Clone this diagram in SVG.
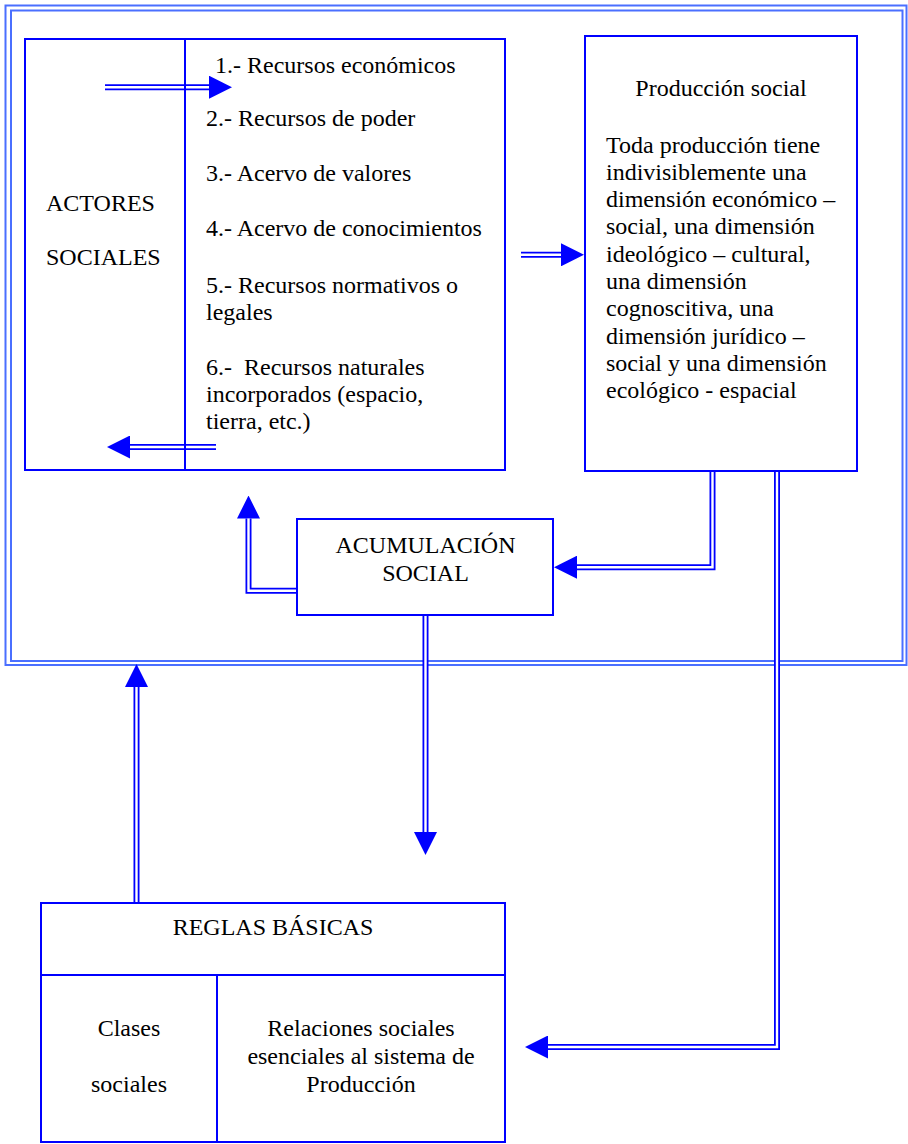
<svg xmlns="http://www.w3.org/2000/svg" width="908" height="1144" viewBox="0 0 908 1144">
<style>
  .frame { fill: none; stroke: #4a6fff; stroke-width: 2; }
  .box { fill: none; stroke: #0000ff; stroke-width: 2; }
  .dl-o { fill: none; stroke: #0000ff; stroke-width: 6; stroke-linejoin: miter; }
  .dl-i { fill: none; stroke: #ffffff; stroke-width: 2.4; stroke-linejoin: miter; }
  text { font-family: "Liberation Serif", "Times New Roman", serif; font-size: 24px; fill: #000000; }
  .c { text-anchor: middle; }
</style>
<defs>
  <marker id="ah" markerUnits="userSpaceOnUse" markerWidth="23" markerHeight="23" viewBox="0 0 23 23" refX="0" refY="11.5" orient="auto">
    <path d="M0,0 L23,11.5 L0,23 z" fill="#0000ff"/>
  </marker>
</defs>
<rect width="908" height="1144" fill="#ffffff"/>

<g id="frame">
  <rect class="frame" x="5.5" y="5.5" width="901" height="659.5"/>
  <rect class="frame" x="11" y="10.5" width="891.5" height="650.5"/>
</g>

<g id="connectors">
  <g id="c-in">
    <path class="dl-o" d="M105,87.2 H209" marker-end="url(#ah)"/>
    <path class="dl-i" d="M105,87.2 H209"/>
  </g>
  <g id="c-to-prod">
    <path class="dl-o" d="M521,254.8 H561" marker-end="url(#ah)"/>
    <path class="dl-i" d="M521,254.8 H561"/>
  </g>
  <g id="c-out">
    <path class="dl-o" d="M216,447 H130" marker-end="url(#ah)"/>
    <path class="dl-i" d="M216,447 H130"/>
  </g>
  <g id="c-acum-up">
    <path class="dl-o" d="M297,590.8 H248.5 V518.5" marker-end="url(#ah)"/>
    <path class="dl-i" d="M297,590.8 H248.5 V518.5"/>
  </g>
  <g id="c-prod-acum">
    <path class="dl-o" d="M712.5,471 V567.2 H577" marker-end="url(#ah)"/>
    <path class="dl-i" d="M712.5,471 V567.2 H577"/>
  </g>
  <g id="c-acum-down">
    <path class="dl-o" d="M425.5,615 V832" marker-end="url(#ah)"/>
    <path class="dl-i" d="M425.5,615 V832"/>
  </g>
  <g id="c-prod-reglas">
    <path class="dl-o" d="M777,471 V1047 H548" marker-end="url(#ah)"/>
    <path class="dl-i" d="M777,471 V1047 H548"/>
  </g>
  <g id="c-reglas-up">
    <path class="dl-o" d="M136.5,903 V687" marker-end="url(#ah)"/>
    <path class="dl-i" d="M136.5,903 V687"/>
  </g>
</g>

<g id="actores">
  <rect class="box" x="25" y="39" width="480" height="431"/>
  <line class="box" x1="185" y1="39" x2="185" y2="470"/>
  <text x="46" y="211">ACTORES</text>
  <text x="46" y="265">SOCIALES</text>
  <text x="215" y="73">1.- Recursos económicos</text>
  <text x="206" y="126">2.- Recursos de poder</text>
  <text x="206" y="181">3.- Acervo de valores</text>
  <text x="206" y="236">4.- Acervo de conocimientos</text>
  <text x="206" y="293">5.- Recursos normativos o</text>
  <text x="206" y="320">legales</text>
  <text x="206" y="375">6.-&#160; Recursos naturales</text>
  <text x="206" y="402">incorporados (espacio,</text>
  <text x="206" y="429">tierra, etc.)</text>
</g>

<g id="produccion">
  <rect class="box" x="585" y="36" width="272" height="435"/>
  <text class="c" x="721" y="96">Producción social</text>
  <text x="606" y="152.5">Toda producción tiene</text>
  <text x="606" y="179.8">indivisiblemente una</text>
  <text x="606" y="207.1">dimensión económico –</text>
  <text x="606" y="234.4">social, una dimensión</text>
  <text x="606" y="261.7">ideológico – cultural,</text>
  <text x="606" y="289">una dimensión</text>
  <text x="606" y="316.3">cognoscitiva, una</text>
  <text x="606" y="343.6">dimensión jurídico –</text>
  <text x="606" y="370.9">social y una dimensión</text>
  <text x="606" y="398.2">ecológico - espacial</text>
</g>

<g id="acumulacion">
  <rect class="box" x="297" y="519" width="256" height="96"/>
  <text class="c" x="425.5" y="553">ACUMULACIÓN</text>
  <text class="c" x="425.5" y="581">SOCIAL</text>
</g>

<g id="reglas">
  <rect class="box" x="41" y="903" width="464" height="239"/>
  <line class="box" x1="41" y1="975" x2="505" y2="975"/>
  <line class="box" x1="217" y1="975" x2="217" y2="1142"/>
  <text class="c" x="273" y="935">REGLAS BÁSICAS</text>
  <text class="c" x="129" y="1036">Clases</text>
  <text class="c" x="129" y="1092">sociales</text>
  <text class="c" x="361" y="1036">Relaciones sociales</text>
  <text class="c" x="361" y="1064">esenciales al sistema de</text>
  <text class="c" x="361" y="1092">Producción</text>
</g>
</svg>
